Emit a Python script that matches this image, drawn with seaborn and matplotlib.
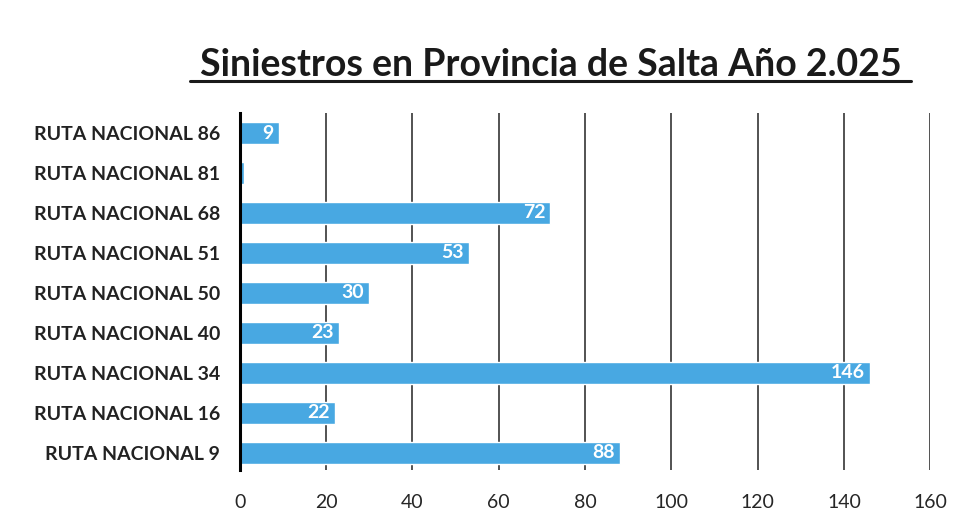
import pandas as pd
import matplotlib.pyplot as plt
import seaborn as sns
from matplotlib.lines import Line2D

rutas = ['RUTA NACIONAL 86', 'RUTA NACIONAL 81', 'RUTA NACIONAL 68', 'RUTA NACIONAL 51',
         'RUTA NACIONAL 50', 'RUTA NACIONAL 40', 'RUTA NACIONAL 34', 'RUTA NACIONAL 16',
         'RUTA NACIONAL 9']
siniestros = [9, 1, 72, 53, 30, 23, 146, 22, 88]
ticks = [0, 20, 40, 60, 80, 100, 120, 140, 160]

data = pd.DataFrame({'ruta': rutas, 'siniestros': siniestros})

sns.set_style('white')
plt.rcParams['font.family'] = ['Lato', 'DejaVu Sans']

fig = plt.figure(figsize=(9.63, 5.31), dpi=100)
ax = fig.add_axes([0.249, 0.115, 0.717, 0.672])

sns.barplot(data=data, x='siniestros', y='ruta', orient='h', color='#48a8e2',
            saturation=1, width=0.56, ax=ax)

# etiquetas dentro de las barras (la de 81 no lleva)
for i, v in enumerate(siniestros):
    if v >= 5:
        ax.text(v - 1.2, i, str(v), ha='right', va='center', color='white',
                fontsize=14, fontweight='bold')

ax.set_xlim(0, 160)
ax.set_xticks(ticks)
ax.set_xticklabels([str(t) for t in ticks], fontsize=14)
ax.set_ylabel('')
ax.set_xlabel('')
ax.tick_params(axis='y', labelsize=14, length=0, pad=14)
ax.tick_params(axis='x', length=0, pad=17)
for lab in ax.get_yticklabels():
    lab.set_fontweight('bold')
    lab.set_color('#222222')

ax.xaxis.grid(True, color='#444444', linewidth=1.3)
ax.set_axisbelow(True)
for s in ['top', 'right', 'bottom']:
    ax.spines[s].set_visible(False)
ax.spines['left'].set_color('black')
ax.spines['left'].set_linewidth(2.2)
ax.set_ylim(8.43, -0.5)

fig.text(0.572, 0.878, 'Siniestros en Provincia de Salta Año 2.025', ha='center',
         va='center', fontsize=27, fontweight='bold', color='#1a1a1a')
fig.add_artist(Line2D([0.197, 0.946], [0.847, 0.847], color='#1a1a1a', linewidth=2.2))

fig.savefig('out.png', dpi=100)
